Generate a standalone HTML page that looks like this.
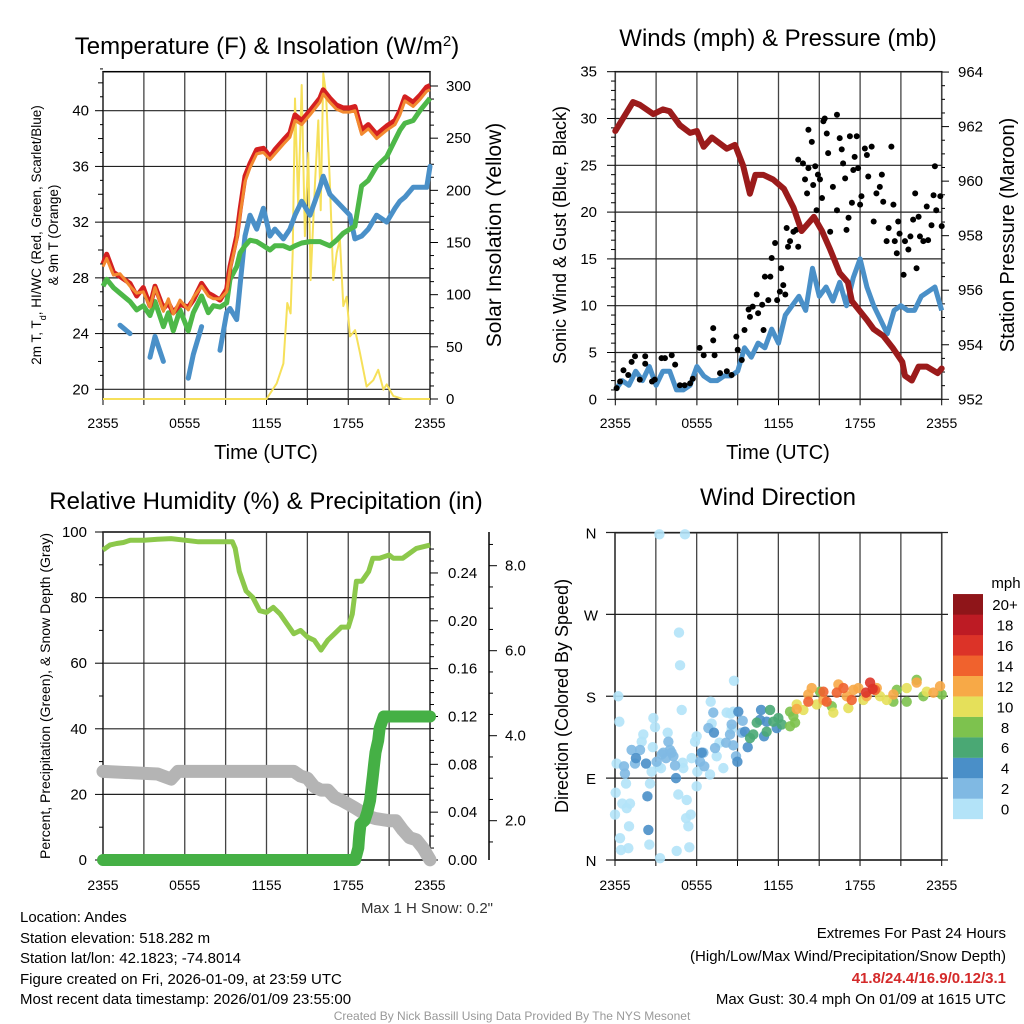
<!DOCTYPE html>
<html><head><meta charset="utf-8"><style>
html,body{margin:0;padding:0;background:#fff;}
svg{display:block;font-family:"Liberation Sans",Arial,sans-serif;}
</style></head><body>
<svg id="chart" width="1024" height="1024" viewBox="0 0 1024 1024">
<rect x="0" y="0" width="1024" height="1024" fill="#fff"/>
<text x="267" y="54" font-size="24" text-anchor="middle">Temperature (F) &amp; Insolation (W/m<tspan baseline-shift="super" font-size="15">2</tspan>)</text>
<text x="778" y="46" font-size="24" text-anchor="middle">Winds (mph) &amp; Pressure (mb)</text>
<text x="266" y="509" font-size="24" text-anchor="middle">Relative Humidity (%) &amp; Precipitation (in)</text>
<text x="778" y="505" font-size="24" text-anchor="middle">Wind Direction</text>
<text x="266" y="459" font-size="20" text-anchor="middle">Time (UTC)</text>
<text x="778" y="459" font-size="20" text-anchor="middle">Time (UTC)</text>
<text transform="translate(41,235) rotate(-90)" font-size="13.5" text-anchor="middle">2m T, T<tspan baseline-shift="sub" font-size="9">d</tspan>, HI/WC (Red, Green, Scarlet/Blue)</text>
<text transform="translate(58,235) rotate(-90)" font-size="13.5" text-anchor="middle">&amp; 9m T (Orange)</text>
<text transform="translate(501,235) rotate(-90)" font-size="21" text-anchor="middle">Solar Insolation (Yellow)</text>
<text transform="translate(566,235) rotate(-90)" font-size="18" text-anchor="middle">Sonic Wind &amp; Gust (Blue, Black)</text>
<text transform="translate(1014,235) rotate(-90)" font-size="20" text-anchor="middle">Station Pressure (Maroon)</text>
<text transform="translate(50,696) rotate(-90)" font-size="14" text-anchor="middle">Percent, Precipitation (Green), &amp; Snow Depth (Gray)</text>
<text transform="translate(568,696) rotate(-90)" font-size="18" text-anchor="middle">Direction (Colored By Speed)</text>
<text x="493" y="913" font-size="15" fill="#333" text-anchor="end">Max 1 H Snow: 0.2"</text>
<g font-size="15">
<text x="20" y="922">Location: Andes</text>
<text x="20" y="943">Station elevation: 518.282 m</text>
<text x="20" y="963">Station lat/lon: 42.1823; -74.8014</text>
<text x="20" y="984">Figure created on Fri, 2026-01-09, at 23:59 UTC</text>
<text x="20" y="1004">Most recent data timestamp: 2026/01/09 23:55:00</text>
</g>
<g font-size="15" text-anchor="end">
<text x="1006" y="938">Extremes For Past 24 Hours</text>
<text x="1006" y="961">(High/Low/Max Wind/Precipitation/Snow Depth)</text>
<text x="1006" y="983" fill="#d42a2a" font-weight="bold">41.8/24.4/16.9/0.12/3.1</text>
<text x="1006" y="1004">Max Gust: 30.4 mph On 01/09 at 1615 UTC</text>
</g>
<text x="512" y="1020" font-size="12" fill="#999" text-anchor="middle">Created By Nick Bassill Using Data Provided By The NYS Mesonet</text>
</svg>
<script>
// ---------- Panel 1 data ----------
var tHours=[0,0.27,0.76,1.25,1.98,2.47,2.96,3.45,3.82,4.43,4.8,5.16,5.65,6.26,6.63,7.24,7.73,8.1,8.59,9.08,9.32,9.81,10.06,10.42,10.79,11.28,11.77,12.26,12.62,13.24,13.72,14.09,14.58,15.19,15.92,16.16,16.65,17.14,17.63,18.12,18.49,18.98,19.47,20.08,20.82,21.43,21.79,22.16,22.77,23.26,23.76,24];
var tempRed=[29.0,29.7,28.4,28.1,27.6,26.7,27.3,26.0,27.4,25.8,26.2,25.5,26.1,25.9,26.4,27.6,26.9,26.7,26.4,27.2,28.8,31.0,32.9,35.3,36.2,37.2,37.3,36.7,37.2,37.9,38.4,39.7,39.3,40.0,40.9,41.5,40.9,40.4,40.2,40.2,40.3,38.6,39.0,38.3,38.9,39.3,40.0,41.0,40.6,41.1,41.7,41.8];
var tempOrange=[28.8,29.4,28.2,28.3,27.4,26.9,27.0,25.9,27.3,25.6,26.5,25.4,26.4,25.7,26.6,27.4,26.7,26.5,26.5,27.0,28.6,30.7,32.5,34.9,35.9,36.9,37.0,36.5,36.9,37.6,38.1,39.3,39.0,39.7,40.6,41.2,40.6,40.1,39.9,39.9,40.0,38.3,38.7,38.0,38.6,39.0,39.7,40.7,40.3,40.8,41.4,41.5];
var tempGreen=[27.4,27.9,27.3,26.9,26.3,25.7,26.0,25.3,26.3,24.5,25.5,24.2,25.7,24.2,25.5,26.7,25.5,26.0,25.9,26.2,27.9,28.8,29.8,30.3,30.7,30.6,30.3,30.0,30.3,30.3,30.1,30.3,30.5,30.6,30.6,30.5,30.3,30.7,31.2,31.5,31.7,34.6,35.0,36.0,36.7,37.9,38.6,39.1,39.3,40.0,40.6,40.9];
var tempDew=[null,null,null,24.6,24.0,null,null,22.3,23.8,22.0,null,null,null,20.8,22.5,24.5,null,null,22.8,25.5,25.8,25.0,27.5,31.0,32.5,31.5,33.0,31.0,31.5,30.8,31.5,32.5,33.5,32.5,34.5,35.3,34.0,33.5,33.0,32.5,30.8,31.0,31.5,32.5,32.0,33.0,33.5,33.8,34.5,34.5,34.5,36.0];
var solarHours=[0,12.0,12.75,13.24,13.53,13.77,13.92,14.09,14.33,14.58,14.82,15.07,15.24,15.56,15.8,15.98,16.17,16.37,16.66,16.9,17.15,17.39,17.64,17.88,18.13,18.5,18.86,19.35,19.84,20.2,20.58,20.82,21.3,22.0,24];
var solarVals=[0,0,15,34,92,82,140,288,185,301,156,236,114,207,267,181,312,293,204,114,140,153,89,98,60,66,44,12,18,28,9,14,3,0,0];
var tempTicks=[20,24,28,32,36,40];
var solarTicks=[0,50,100,150,200,250,300];
var timeLabels=["2355","0555","1155","1755","2355"];
// ---------- Panel 2 data ----------
var presHours=[0,1.3,1.8,2.8,3.5,4,4.75,5.5,6,6.5,7.1,8.2,8.8,9.4,9.9,10.3,10.9,11.6,12.4,13.1,13.7,14.6,15.2,15.8,16.5,17.1,17.4,18.5,19,19.7,20.4,21.1,21.3,21.8,22.3,22.9,23.7,24];
var presVals=[961.84,962.90,962.80,962.46,962.63,962.56,962.05,961.77,961.84,961.26,961.60,961.19,961.33,960.57,959.54,960.23,960.23,960.06,959.72,959.03,958.17,958.69,958.17,957.49,956.63,956.29,955.60,954.91,954.57,954.33,953.89,953.37,952.86,952.69,953.20,953.20,952.96,953.13];
var windHours=[0,0.5,1,1.5,2,2.5,3,3.5,4,4.5,5,5.5,6,6.5,7,7.5,8,8.5,9,9.5,10,10.5,11,11.5,12,12.5,13,13.5,14,14.5,15,15.5,16,16.5,17,17.5,18,18.5,19,19.5,20,20.5,21,21.5,22,22.5,23,23.5,24];
var windVals=[1,2,1.5,3,2,3.5,1.5,3,3,1,1,1.5,3.5,2.5,2,2,2.5,2.5,3,5.5,4.5,6,5.5,7.5,6,9,10,11,9.5,14,11,12,10.5,12.5,10,13,15,12,10,8.5,7,9.5,10,9.5,9.5,11,11.5,12,9.5];
var gustHours=[0.1,0.35,0.6,0.95,1.2,1.45,1.8,2.2,2.2,2.7,2.9,3.4,3.65,4.15,4.4,4.75,5.1,5.5,5.7,6.2,6.5,7.2,7.2,7.3,7.7,8.2,8.55,8.9,9.0,9.3,9.5,9.8,9.9,10.1,10.4,10.5,10.8,10.9,11.0,11.25,11.4,11.5,11.75,11.9,12.1,12.2,12.35,12.5,12.6,12.7,12.85,13.1,13.3,13.45,13.45,13.8,13.95,14.1,14.2,14.2,14.45,14.55,14.7,14.8,14.9,15.05,15.2,15.3,15.4,15.55,15.65,15.8,16.0,16.3,16.3,16.5,16.65,16.75,16.9,17.0,17.15,17.25,17.4,17.5,17.6,17.75,17.85,18.0,18.1,18.35,18.5,18.6,18.85,19.0,19.2,19.45,19.6,19.7,19.95,20.1,20.3,20.45,20.55,20.7,20.8,20.9,21.2,21.3,21.55,21.7,21.9,22.05,22.15,22.3,22.4,22.65,22.9,23.0,23.25,23.4,23.5,23.6,23.9,24.0];
var gustVals=[1.2,1.9,3.1,2.6,4.0,4.6,2.1,4.6,3.8,1.9,2.1,4.4,4.4,4.7,3.7,1.5,1.5,1.7,2.2,5.5,4.7,7.6,6.3,4.7,2.8,3.0,2.6,6.7,5.3,4.2,7.4,9.6,8.8,9.9,11.2,9.2,10.1,7.4,13.1,10.6,13.1,15.1,16.7,10.6,11.5,14.0,12.2,11.2,18.3,16.3,16.9,17.9,18.1,16.3,25.6,25.2,23.5,22.0,24.7,28.8,27.5,22.9,24.9,20.2,24.0,23.5,21.5,29.7,30.0,28.4,26.3,17.9,22.7,20.2,30.4,27.9,26.7,25.2,23.6,18.1,19.4,28.1,21.0,24.5,25.9,28.1,24.7,20.8,21.7,26.8,26.1,23.8,27.0,19.0,22.0,22.7,24.0,21.1,16.9,18.3,27.0,20.8,16.9,15.6,19.0,17.7,13.3,16.9,16.0,17.4,19.2,22.0,14.0,19.5,17.4,16.9,20.6,17.0,18.6,21.8,24.9,20.2,21.7,18.5];
var windTicks=[0,5,10,15,20,25,30,35];
var presTicks=[952,954,956,958,960,962,964];
// ---------- Panel 3 data ----------
var rhHours=[0,0.5,1,1.5,2,3,4,5,6,7,8,9,9.5,9.7,10,10.5,11,11.5,12,12.5,13,13.5,14,14.5,15,15.5,16,16.5,17,17.5,18,18.3,18.6,19,19.5,19.8,20.3,21,21.3,22,23,24];
var rhVals=[94.5,96,96.5,96.8,97.5,97.5,97.8,98,97.5,97,97,97,97,95,88,82,80,76,75.5,77,75,72,69,70,68,67,64,67,69,71,71,75,85,85,88,92,92,93,92,92,95,96];
var precipHours=[0,18.5,18.74,18.8,18.9,19.2,19.4,19.6,19.7,19.8,19.9,20.0,20.2,20.3,20.6,24];
var precipVals=[0,0,0.01,0.02,0.03,0.033,0.04,0.05,0.06,0.07,0.08,0.09,0.1,0.11,0.12,0.12];
var snowHours=[0,4,5,5.5,14,14.5,15,15.5,16,16.5,17,17.5,18,18.5,19,19.5,20,21,21.5,22,22.5,23,23.5,24];
var snowVals=[3.16,3.1,2.98,3.16,3.16,3.05,3.0,2.8,2.72,2.72,2.55,2.48,2.39,2.3,2.2,2.1,2.05,2.0,2.0,1.78,1.6,1.55,1.35,1.08];
var rhTicks=[0,20,40,60,80,100];
var precipTicks=["0.00","0.04","0.08","0.12","0.16","0.20","0.24"];
var snowTicks=["2.0","4.0","6.0","8.0"];
// ---------- Panel 4 data ----------
var wdHours=[0.24,0.32,0.12,0.05,0.0,0.37,0.44,0.54,0.81,0.86,1.03,0.98,1.1,2.82,2.94,2.77,2.08,1.96,2.69,2.57,2.52,3.26,3.31,3.18,3.38,3.87,5.14,4.7,4.78,4.9,4.65,4.53,5.27,5.22,5.39,5.46,5.56,6.0,6.05,6.0,5.88,5.63,5.02,4.97,6.98,7.03,7.1,7.47,7.67,7.96,8.2,8.5,8.57,8.74,8.69,
1.22,1.84,1.47,0.66,0.73,3.55,3.75,3.92,4.04,4.16,4.29,4.41,3.06,3.43,6.25,6.49,6.56,6.86,7.22,7.35,8.16,8.45,8.57,8.69,8.89,9.31,9.38,
1.54,2.28,2.38,2.45,4.48,7.27,6.37,9.06,8.99,9.55,9.75,10.73,10.65,10.95,11.14,11.88,
9.92,10.16,10.41,11.39,11.63,12.0,12.25,11.14,
12.86,13.1,13.23,12.86,15.06,20.7,21.43,22.16,22.65,24.0,15.92,20.45,
13.35,13.84,14.82,16.04,17.14,18.25,19.47,21.43,22.9,19.96,
14.45,14.2,13.35,16.41,17.51,17.88,19.23,20.45,22.16,23.39,23.88,15.31,17.02,18.49,
14.2,15.55,16.29,16.78,17.39,15.31,19.1,
18.74,18.93,18.44];
var wdDir=[180,152,106,74,50,24,11,62,84,57,37,13,62,156,146,124,138,130,97,84,17,358,2,103,101,140,358,250,214,165,72,10,66,46,37,14,50,81,97,136,130,112,101,107,94,174,150,114,129,101,162,161,144,197,163,
121,121,106,103,95,118,112,130,121,118,114,104,108,116,108,118,103,145,162,123,129,138,149,126,114,140,153,
112,106,70,33,90,140,118,163,108,141,124,165,154,136,152,145,
134,138,151,165,152,156,149,141,
163,158,151,147,185,187,174,198,180,182,169,174,
171,165,171,162,167,176,180,189,185,176,
189,182,166,193,187,189,189,182,195,184,191,176,180,180,
174,174,184,189,176,185,187,
195,188,184];
var wdSpeed=[1,1,1,1,1,1,1,1,1,1,1,1,1,1,1,1,1,1,1,1,1,1,1,1,1,1,1,1,1,1,1,1,1,1,1,1,1,1,1,1,1,1,1,1,1,1,1,1,1,1,1,1,1,1,1,
3,3,3,3,3,3,3,3,3,3,3,3,3,3,3,3,3,3,3,3,3,3,3,3,3,3,3,
5,5,5,5,5,5,5,5,5,5,5,5,5,5,5,5,
7,7,7,7,7,7,7,7,
9,9,9,9,9,9,9,9,9,9,9,9,
11,11,11,11,11,11,11,11,11,11,
13,13,13,13,13,13,13,13,13,13,13,13,13,13,
15,15,15,15,15,15,15,
17,17,17];
var dirLabels=["N","E","S","W","N"];
var dirTicks=[0,90,180,270,360];
var cbLabels=["0","2","4","6","8","10","12","14","16","18","20+"];
var cbColors=["#b3e3f8","#80b9e3","#4a8fc8","#4aa874","#7dc24e","#e5e05a","#f7a947","#f0622d","#dc3328","#bd1b24","#8f1519"];

var NS="http://www.w3.org/2000/svg";
var svg=document.getElementById("chart");
function mk(tag,attrs,parent){var e=document.createElementNS(NS,tag);for(var k in attrs)e.setAttribute(k,attrs[k]);(parent||svg).appendChild(e);return e;}
function grp(name){var g=mk("g",{});


return g;}

function x1(h){return 103+h*327/24;}
function yT(t){return 110.7+(40-t)*13.93;}
function yS(s){return 399-s*1.0433;}
function x2(h){return 615.3+h*326.4/24;}
function yW(m){return 399.3-m*9.36;}
function yP(p){return 399.3-(p-952)*27.27;}
function x3(h){return 103+h*327/24;}
function yR(r){return 860-r*3.28;}
function yPr(v){return 860-v*1196;}
function ySn(v){return 905.7-v*42.5;}
function x4(h){return 615+h*326.7/24;}
function yD(d){return 860-d*0.9097;}

function pathFrom(hs,vs,fx,fy){var d="",pen=false;for(var i=0;i<hs.length;i++){if(vs[i]===null){pen=false;continue;}d+=(pen?"L":"M")+fx(hs[i]).toFixed(1)+","+fy(vs[i]).toFixed(1);pen=true;if(i+1<hs.length&&vs[i+1]===null&&(i===0||vs[i-1]===null)){d+="l0.1,0";}}return d;}
function line(g,x1_,y1_,x2_,y2_,st,w){return mk("line",{x1:x1_,y1:y1_,x2:x2_,y2:y2_,stroke:st||"#000","stroke-width":w||1},g);}
function text(g,x,y,s,anchor,size){var t=mk("text",{x:x,y:y,"font-size":size||14,"text-anchor":anchor||"middle"},g);t.textContent=s;return t;}

function frame(L,R,T,B,name){var g=grp(name);
var r=mk("rect",{x:L,y:T,width:R-L,height:B-T,fill:"none",stroke:"#000","stroke-width":1.5},g);


return g;}
function vgrid(g,L,R,T,B){for(var k=0;k<=8;k++){var x=L+(R-L)*k/8;var ln=line(g,x,T,x,B,"#444",1.3);


var tk=line(g,x,B,x,B+6,"#000",1);

}}
function xlabels(g,L,R,y){for(var k=0;k<timeLabels.length;k++){var t=text(g,L+(R-L)*k/4,y,timeLabels[k]);

}}

// ===== Panel 1 =====
var p1=frame(103,430,71.7,399,"temperature-panel");
vgrid(p1,103,430,71.7,399);
for(var t=20;t<=43;t+=1){var y=yT(t);var maj=tempTicks.indexOf(t)>=0;var tk=line(p1,maj?95:(t%2==0?98:100),y,103,y);

}
tempTicks.forEach(function(v){var y=yT(v);var gl=line(p1,103,y,430,y,"#222",1.2);


var lb=text(p1,89,y+5,String(v),"end",15);

});
for(var s=0;s<=310;s+=12.5){var y=yS(s);var maj=solarTicks.indexOf(s)>=0;var tk=line(p1,430,y,maj?438:434,y);

}
solarTicks.forEach(function(v){var lb=text(p1,446,yS(v)+5,String(v),"start",15);

});
xlabels(p1,103,430,428);
var sol=mk("path",{d:pathFrom(solarHours,solarVals,x1,yS),fill:"none",stroke:"#f6e05a","stroke-width":2,"stroke-linejoin":"round"},p1);


var dew=mk("path",{d:pathFrom(tHours,tempDew,x1,yT),fill:"none",stroke:"#4a90c8","stroke-width":5,"stroke-linecap":"round","stroke-linejoin":"round"},p1);


var gr=mk("path",{d:pathFrom(tHours,tempGreen,x1,yT),fill:"none",stroke:"#4db848","stroke-width":5,"stroke-linejoin":"round"},p1);


var rd=mk("path",{d:pathFrom(tHours,tempRed,x1,yT),fill:"none",stroke:"#d42020","stroke-width":5,"stroke-linejoin":"round"},p1);


var og=mk("path",{d:pathFrom(tHours,tempOrange,x1,yT),fill:"none",stroke:"#f28a30","stroke-width":3,"stroke-linejoin":"round"},p1);



// ===== Panel 2 =====
var p2=frame(615.3,941.7,71.7,399.3,"winds-panel");
vgrid(p2,615.3,941.7,71.7,399.3);
for(var m=0;m<=35;m+=1){var y=yW(m);var maj=m%5==0;var tk=line(p2,maj?607:611,y,615.3,y);

}
windTicks.forEach(function(v){var y=yW(v);var gl=line(p2,615.3,y,941.7,y,"#222",1.2);


var lb=text(p2,597,y+5,String(v),"end",15);

});
for(var p=952;p<=964;p+=0.5){var y=yP(p);var maj=presTicks.indexOf(p)>=0;var tk=line(p2,941.7,y,maj?949:945,y);

}
presTicks.forEach(function(v){var lb=text(p2,958,yP(v)+5,String(v),"start",15);

});
xlabels(p2,615.3,941.7,428);
var wl=mk("path",{d:pathFrom(windHours,windVals,x2,yW),fill:"none",stroke:"#4a90c8","stroke-width":5,"stroke-linejoin":"round"},p2);


for(var i=0;i<gustHours.length;i++){var c=mk("circle",{cx:x2(gustHours[i]),cy:yW(gustVals[i]),r:3,fill:"#000"},p2);

}
var pl=mk("path",{d:pathFrom(presHours,presVals,x2,yP),fill:"none",stroke:"#9b1b1b","stroke-width":6,"stroke-linejoin":"round","stroke-linecap":"round"},p2);



// ===== Panel 3 =====
var p3=frame(103,430,532,860,"humidity-panel");
vgrid(p3,103,430,532,860);
for(var r=0;r<=100;r+=10){var y=yR(r);var tk=line(p3,r%20==0?95:99,y,103,y);

}
rhTicks.forEach(function(v){var y=yR(v);var gl=line(p3,103,y,430,y,"#222",1.2);


var lb=text(p3,87,y+5,String(v),"end",15);

});
for(var q=0;q<=0.265;q+=0.01){var y=yPr(q);var maj=Math.abs(q*100%4)<0.01||Math.abs(q*100%4-4)<0.01;var tk=line(p3,430,y,maj?438:434,y);

}
precipTicks.forEach(function(v){var lb=text(p3,448,yPr(parseFloat(v))+5,v,"start",15);

});
var sax=line(p3,489,532,489,860,"#000",1.5);


for(var sv=1.5;sv<=8.5;sv+=0.5){var y=ySn(sv);var maj=Math.abs(sv%2)<0.01;var tk=line(p3,489,y,maj?497:493,y);

}
snowTicks.forEach(function(v){var lb=text(p3,505,ySn(parseFloat(v))+5,v,"start",15);

});
xlabels(p3,103,430,890);
var rh=mk("path",{d:pathFrom(rhHours,rhVals,x3,yR),fill:"none",stroke:"#8cc84b","stroke-width":5,"stroke-linejoin":"round"},p3);


var sn=mk("path",{d:pathFrom(snowHours,snowVals,x3,ySn),fill:"none",stroke:"#b4b4b4","stroke-width":13,"stroke-linejoin":"round","stroke-linecap":"round"},p3);


var pr=mk("path",{d:pathFrom(precipHours,precipVals,x3,yPr),fill:"none",stroke:"#45b045","stroke-width":12,"stroke-linejoin":"round","stroke-linecap":"round"},p3);



// ===== Panel 4 =====
var p4=frame(615,941.7,532.7,860,"wind-direction-panel");
vgrid(p4,615,941.7,532.7,860);
dirTicks.forEach(function(v,i){var y=yD(v);var gl=line(p4,606,y,948,y,"#222",1.2);


var lb=text(p4,591,y+6,dirLabels[i],"middle",15);

});
xlabels(p4,615,941.7,890);
for(var i=0;i<wdHours.length;i++){var bin=Math.min(10,Math.floor(wdSpeed[i]/2));var c=mk("circle",{cx:x4(wdHours[i]),cy:yD(wdDir[i]),r:5.2,fill:cbColors[bin],"fill-opacity":0.9},p4);

}
var cb=grp("speed-colorbar");
for(var k=0;k<cbColors.length;k++){var y0=819-(k+1)*20.45;var rc=mk("rect",{x:953,y:y0,width:30,height:20.6,fill:cbColors[k]},cb);


var lb=text(cb,1005,y0+16,cbLabels[k],"middle",15);

}
var mu=text(cb,1006,588,"mph","middle",15);


</script>
</body></html>
